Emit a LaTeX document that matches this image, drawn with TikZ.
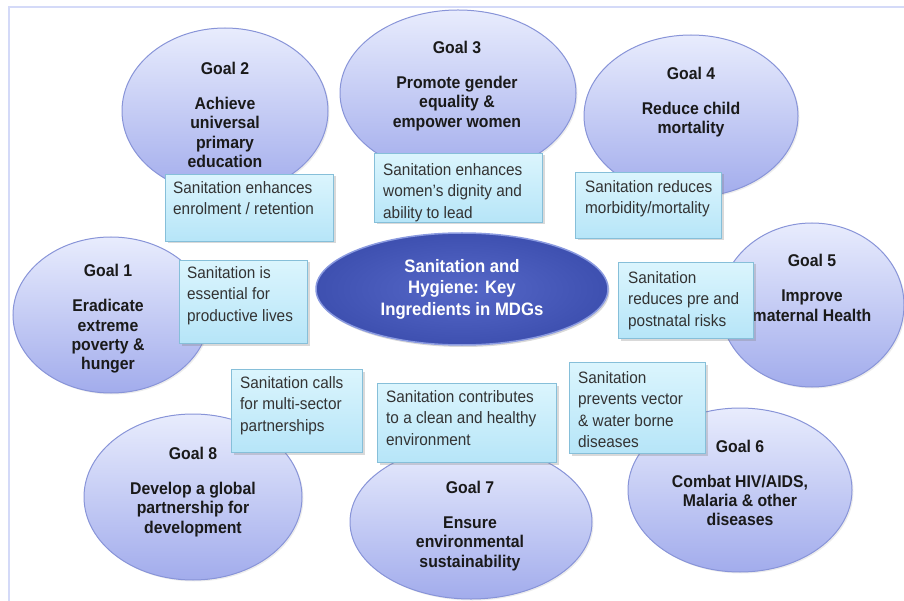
\documentclass[tikz,border=0pt]{standalone}
\usepackage{fontspec}
\setmainfont{Liberation Sans}[FakeStretch=0.93]
\usetikzlibrary{shapes.geometric,shadows}

\definecolor{framecol}{HTML}{D4DAF8}
\definecolor{goaltop}{HTML}{E8ECFD}
\definecolor{goalbot}{HTML}{A2ACEC}
\definecolor{goalline}{HTML}{8894D8}
\definecolor{goalink}{HTML}{1A1A1A}
\definecolor{notetop}{HTML}{DBF5FD}
\definecolor{notebot}{HTML}{B6E5F8}
\definecolor{noteline}{HTML}{86BFD9}
\definecolor{noteink}{HTML}{333333}
\definecolor{coremid}{HTML}{5668C8}
\definecolor{coreedge}{HTML}{3E50B0}
\definecolor{coreline}{HTML}{8A9AE0}

\begin{document}
\begin{tikzpicture}[x=1pt,y=-1pt]
    \tikzstyle{goal}=[ellipse, draw=goalline, line width=1pt, top color=goaltop, bottom color=goalbot,
                      inner sep=0pt, drop shadow={shadow xshift=1.5pt, shadow yshift=-1.5pt, opacity=0.15}]
    \tikzstyle{goaltext}=[align=center, text=goalink, inner sep=0pt, font=\fontsize{17}{19.3}\selectfont\bfseries]
    \tikzstyle{note}=[rectangle, draw=noteline, line width=1pt, top color=notetop, bottom color=notebot,
                      anchor=north west, inner sep=0pt, drop shadow={shadow xshift=2pt, shadow yshift=-2pt, opacity=0.3}]
    \tikzstyle{notetext}=[align=left, anchor=north west, text=noteink, inner sep=0pt, font=\fontsize{16.5}{21.5}\selectfont]

    \useasboundingbox (0,0) rectangle (904,601);
    \draw[draw=framecol, line width=1.5pt] (9,601) -- (9,7) -- (904,7);

    % the eight goals
    \node[goal, minimum width=196pt, minimum height=156pt] (goal1) at (111,315) {};
    \node[goal, minimum width=206pt, minimum height=166pt] (goal2) at (225,111) {};
    \node[goal, minimum width=236pt, minimum height=166pt] (goal3) at (458,93)  {};
    \node[goal, minimum width=214pt, minimum height=162pt] (goal4) at (691,116) {};
    \node[goal, minimum width=184pt, minimum height=164pt] (goal5) at (812,305) {};
    \node[goal, minimum width=224pt, minimum height=164pt] (goal6) at (740,490) {};
    \node[goal, minimum width=242pt, minimum height=154pt] (goal7) at (471,522) {};
    \node[goal, minimum width=218pt, minimum height=166pt] (goal8) at (193,497) {};

    \node[goaltext] (goal1txt) at (108,319) {Goal 1\\[15.7pt]Eradicate\\extreme\\poverty \&\\hunger};
    \node[goaltext] (goal2txt) at (225,115) {Goal 2\\[15.7pt]Achieve\\universal\\primary\\education};
    \node[goaltext] (goal3txt) at (457,86)  {Goal 3\\[15.7pt]Promote gender\\equality \&\\empower women};
    \node[goaltext] (goal4txt) at (691,102) {Goal 4\\[15.7pt]Reduce child\\mortality};
    \node[goaltext] (goal5txt) at (812,288) {Goal 5\\[15.7pt]Improve\\maternal Health};
    \node[goaltext] (goal6txt) at (740,483) {Goal 6\\[15.7pt]Combat HIV/AIDS,\\Malaria \& other\\diseases};
    \node[goaltext] (goal7txt) at (470,526) {Goal 7\\[15.7pt]Ensure\\environmental\\sustainability};
    \node[goaltext] (goal8txt) at (193,492) {Goal 8\\[15.7pt]Develop a global\\partnership for\\development};

    % centre
    \node[ellipse, draw=coreline, line width=1.5pt, inner color=coremid, outer color=coreedge,
          minimum width=292pt, minimum height=112pt, inner sep=0pt,
          drop shadow={shadow xshift=1.5pt, shadow yshift=-2pt, opacity=0.3}] (core) at (462,289) {};
    \node[align=center, text=white, inner sep=0pt, font=\fontsize{18}{21.5}\selectfont\bfseries]
          (coretxt) at (462,289) {Sanitation and\\Hygiene: Key\\Ingredients in MDGs};

    % what sanitation does for each goal
    \node[note, minimum width=168pt, minimum height=67pt] (note2) at (165,174) {};
    \node[note, minimum width=168pt, minimum height=69pt] (note3) at (374,153) {};
    \node[note, minimum width=146pt, minimum height=66pt] (note4) at (575,172) {};
    \node[note, minimum width=128pt, minimum height=83pt] (note1) at (179,260) {};
    \node[note, minimum width=135pt, minimum height=76pt] (note5) at (618,262) {};
    \node[note, minimum width=131pt, minimum height=83pt] (note8) at (231,369) {};
    \node[note, minimum width=179pt, minimum height=79pt] (note7) at (377,383) {};
    \node[note, minimum width=136pt, minimum height=91pt] (note6) at (569,362) {};

    \node[notetext] (note2txt) at (173,181) {Sanitation enhances\\enrolment / retention};
    \node[notetext] (note3txt) at (383,163) {Sanitation enhances\\women’s dignity and\\ability to lead};
    \node[notetext] (note4txt) at (585,180) {Sanitation reduces\\morbidity/mortality};
    \node[notetext] (note1txt) at (187,266) {Sanitation is\\essential for\\productive lives};
    \node[notetext] (note5txt) at (628,271) {Sanitation\\reduces pre and\\postnatal risks};
    \node[notetext] (note8txt) at (240,376) {Sanitation calls\\for multi-sector\\partnerships};
    \node[notetext] (note7txt) at (386,390) {Sanitation contributes\\to a clean and healthy\\environment};
    \node[notetext] (note6txt) at (578,371) {Sanitation\\prevents vector\\\& water borne\\diseases};

\end{tikzpicture}
\end{document}
